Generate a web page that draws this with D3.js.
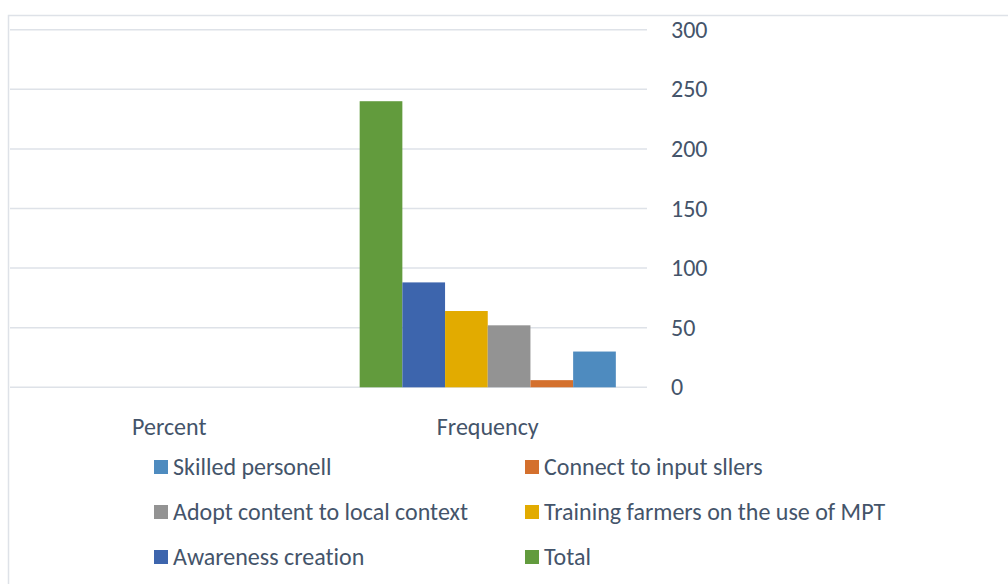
<!DOCTYPE html>
<html>
<head>
<meta charset="utf-8">
<script src="https://cdn.jsdelivr.net/npm/d3@7"></script>
<style>
  html, body { margin: 0; padding: 0; background: #fff; }
  svg text { font-family: Carlito, Calibri, "Open Sans", sans-serif; fill: #44546A; font-variant-ligatures: none; }
</style>
</head>
<body>
<div id="chart"></div>
<script>
const categories = ['Percent', 'Frequency'];
const seriesNames = ['Total', 'Awareness creation', 'Training farmers on the use of MPT',
  'Adopt content to local context', 'Connect to input sllers', 'Skilled personell'];
const seriesColors = ['#629B3D', '#3D65AD', '#E2AB00', '#939393', '#D4702D', '#4E8BBF'];
const percentValues = [0, 0, 0, 0, 0, 0];
const frequencyValues = [240, 88, 64, 52, 6, 30];
const yTicks = [0, 50, 100, 150, 200, 250, 300];

const valuesByCategory = [percentValues, frequencyValues];

const width = 1008, height = 584;
const fontSize = 24;
const svg = d3.select('#chart').append('svg')
  .attr('width', width)
  .attr('height', height);

// chart area frame
svg.append('rect')
  .attr('x', 8.5).attr('y', 15.5)
  .attr('width', 1100).attr('height', 700)
  .attr('fill', 'none')
  .attr('stroke', '#DEE2E8')
  .attr('stroke-width', 1.5);

const plot = {left: 10, right: 647, top: 29.7, bottom: 387.3};

const x = d3.scaleBand().domain(categories).range([plot.left, plot.right]);
const xInner = d3.scaleBand().domain(seriesNames)
  .range([0, x.bandwidth()])
  .paddingOuter(0.73);
const y = d3.scaleLinear().domain([0, 300]).range([plot.bottom, plot.top]);

// gridlines
svg.append('g').selectAll('line')
  .data(yTicks)
  .join('line')
  .attr('x1', plot.left).attr('x2', plot.right)
  .attr('y1', d => y(d)).attr('y2', d => y(d))
  .attr('stroke', '#DEE2E8')
  .attr('stroke-width', 1.5);

// right axis labels
const yAxis = svg.append('g')
  .attr('transform', `translate(${plot.right}, 0)`)
  .call(d3.axisRight(y).tickValues(yTicks).tickSize(0).tickPadding(24));
yAxis.select('.domain').remove();
yAxis.selectAll('text')
  .attr('font-size', fontSize)
  .attr('fill', '#44546A')
  .style('font-family', 'Carlito, Calibri, "Open Sans", sans-serif');

// bars
const groups = svg.append('g').selectAll('g')
  .data(categories)
  .join('g')
  .attr('transform', d => `translate(${x(d)}, 0)`);

groups.selectAll('rect')
  .data((c, i) => seriesNames.map((s, j) => ({series: s, value: valuesByCategory[i][j], color: seriesColors[j]})))
  .join('rect')
  .attr('x', d => xInner(d.series))
  .attr('width', xInner.bandwidth())
  .attr('y', d => y(d.value))
  .attr('height', d => y(0) - y(d.value))
  .attr('fill', d => d.color);

// category labels
svg.append('g').selectAll('text')
  .data(categories)
  .join('text')
  .attr('x', d => x(d) + x.bandwidth() / 2)
  .attr('y', 427)
  .attr('dy', '0.35em')
  .attr('text-anchor', 'middle')
  .attr('font-size', fontSize)
  .text(d => d);

// legend (reverse order, two columns)
const legendOrder = seriesNames.map((s, j) => ({name: s, color: seriesColors[j]})).reverse();
const legendCols = [154, 525];
const legendRows = [467, 512, 557];
const legend = svg.append('g').selectAll('g')
  .data(legendOrder)
  .join('g')
  .attr('transform', (d, i) => `translate(${legendCols[i % 2]}, ${legendRows[Math.floor(i / 2)]})`);

legend.append('rect')
  .attr('x', 0).attr('y', -7)
  .attr('width', 14).attr('height', 14)
  .attr('fill', d => d.color);

legend.append('text')
  .attr('x', 19)
  .attr('dy', '0.35em')
  .attr('font-size', fontSize)
  .text(d => d.name);
</script>
</body>
</html>
